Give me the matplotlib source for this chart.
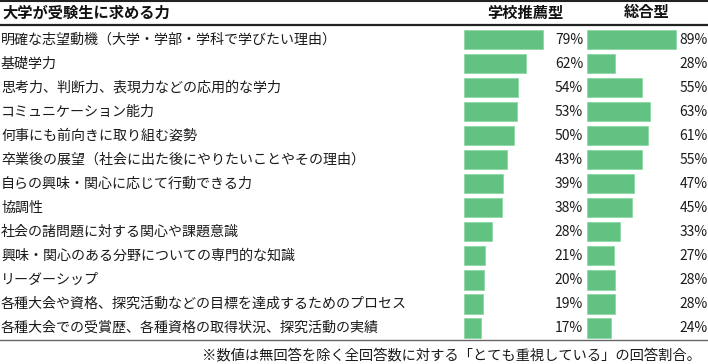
import matplotlib
matplotlib.use("Agg")
import matplotlib.pyplot as plt
from matplotlib.lines import Line2D
from matplotlib.transforms import blended_transform_factory

plt.rcParams['font.family'] = ['Noto Sans CJK JP', 'DejaVu Sans']

title = "大学が受験生に求める力"
col_headers = ["学校推薦型", "総合型"]
categories = [
    "明確な志望動機（大学・学部・学科で学びたい理由）",
    "基礎学力",
    "思考力、判断力、表現力などの応用的な学力",
    "コミュニケーション能力",
    "何事にも前向きに取り組む姿勢",
    "卒業後の展望（社会に出た後にやりたいことやその理由）",
    "自らの興味・関心に応じて行動できる力",
    "協調性",
    "社会の諸問題に対する関心や課題意識",
    "興味・関心のある分野についての専門的な知識",
    "リーダーシップ",
    "各種大会や資格、探究活動などの目標を達成するためのプロセス",
    "各種大会での受賞歴、各種資格の取得状況、探究活動の実績",
]
suisen = [79, 62, 54, 53, 50, 43, 39, 38, 28, 21, 20, 19, 17]
sogo = [89, 28, 55, 63, 61, 55, 47, 45, 33, 27, 28, 28, 24]
footnote = "※数値は無回答を除く全回答数に対する「とても重視している」の回答割合。"

W, H = 708, 364
fig = plt.figure(figsize=(W / 100, H / 100), dpi=100)

BAR_COLOR = "#62c282"
TEXT = "#1a1a1a"
n = len(categories)
row_top_px, row_bot_px = 27.5, 340.0

def px_axes(left_px, width_px):
    return fig.add_axes([left_px / W, 1 - row_bot_px / H, width_px / W,
                         (row_bot_px - row_top_px) / H])

ax1 = px_axes(464, 100)
ax2 = px_axes(587, 100)
for ax, vals, lab_x in ((ax1, suisen, 119), (ax2, sogo, 120.5)):
    ax.barh(range(n), vals, height=0.8, color=BAR_COLOR,
            edgecolor="#8fd6a5", linewidth=0.6)
    ax.set_xlim(0, 100)
    ax.set_ylim(n - 0.5, -0.5)
    ax.axis("off")
    for i, v in enumerate(vals):
        ax.text(lab_x, i, f"{v}%", ha="right", va="center", fontsize=10,
                color=TEXT, clip_on=False)

# category labels
trans = blended_transform_factory(fig.transFigure, ax1.transData)
for i, c in enumerate(categories):
    ax1.text(1 / W, i, c, transform=trans, ha="left", va="center",
             fontsize=10.1, color=TEXT)

# header
fig.text(2 / W, 1 - 12.5 / H, title, ha="left", va="center", fontsize=11,
         fontweight="bold", color="#111111")
fig.text(525 / W, 1 - 12.5 / H, col_headers[0], ha="center", va="center",
         fontsize=11, fontweight="bold", color="#111111")
fig.text(647 / W, 1 - 12.5 / H, col_headers[1], ha="center", va="center",
         fontsize=11, fontweight="bold", color="#111111")

# rules
fig.add_artist(Line2D([0, 1], [1 - 0.8 / H] * 2, color="#222222", lw=1.5,
                      transform=fig.transFigure))
fig.add_artist(Line2D([0, 1], [1 - 24.5 / H] * 2, color="#222222", lw=1.6,
                      transform=fig.transFigure))
fig.add_artist(Line2D([0, 1], [1 - 339.5 / H] * 2, color="#666666", lw=1.0,
                      transform=fig.transFigure))

fig.text(701 / W, 1 - 355.5 / H, footnote, ha="right", va="center",
         fontsize=10.3, color=TEXT)

fig.savefig("out.png", dpi=100)
